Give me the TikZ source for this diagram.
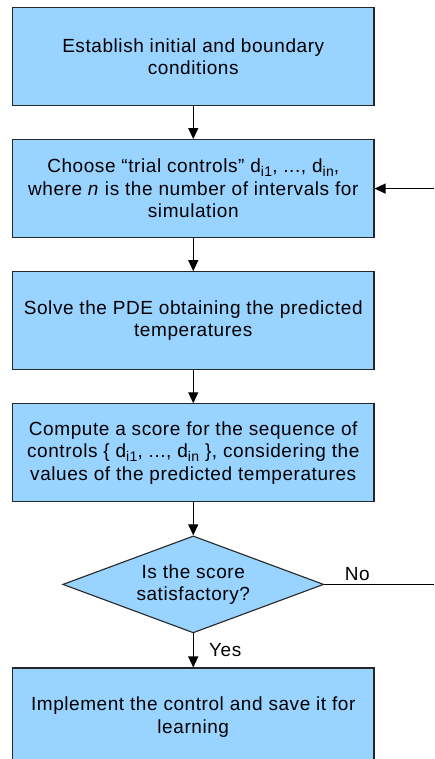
\documentclass[tikz,border=0pt]{standalone}
\usepackage{fontspec}
\setmainfont{Liberation Sans}[LetterSpace=3]
\usetikzlibrary{arrows.meta, positioning, shapes.geometric}
\definecolor{boxblue}{RGB}{153,211,255}
% index under a control symbol
\newcommand{\ctrlidx}[1]{\raisebox{-3.5pt}{\fontsize{14}{14}\selectfont #1}}

\begin{document}
\begin{tikzpicture}[
    x=1pt, y=1pt,
    font=\fontsize{19}{22.5}\selectfont,
    node distance=33pt,
    box/.style={rectangle, draw=black!85, line width=1.1pt, fill=boxblue, minimum width=361.5pt, minimum height=98pt, align=center},
    decision/.style={diamond, draw=black!85, line width=1.1pt, fill=boxblue, aspect=2.7, inner sep=0pt, minimum width=261pt, minimum height=97pt, align=center},
    arrow/.style={-{Triangle[length=11pt, width=10pt]}, line width=1.2pt}
  ]
    \useasboundingbox (0,0) rectangle (434,-759);

    \node[box] (init) at (193.25,-56.5) {Establish initial and boundary\\conditions};
    \node[box, below=of init] (choose) {Choose “trial controls” d\ctrlidx{i1}, ..., d\ctrlidx{in},\\where \textit{n} is the number of intervals for\\simulation};
    \node[box, below=of choose] (solve) {Solve the PDE obtaining the predicted\\temperatures};
    \node[box, below=of solve] (score) {Compute a score for the sequence of\\controls \{ d\ctrlidx{i1}, ..., d\ctrlidx{in} \}, considering the\\values of the predicted temperatures};
    \node[decision, below=of score] (check) {Is the score\\satisfactory?};
    \node[box, below=34pt of check] (impl) {Implement the control and save it for\\learning};

    % loop back runs past the right edge
    \coordinate (rim) at (434,0);
    \coordinate (noOut) at (check.east -| rim);
    \coordinate (loopIn) at (choose.east -| rim);

    \draw[arrow] (init) -- (choose);
    \draw[arrow] (choose) -- (solve);
    \draw[arrow] (solve) -- (score);
    \draw[arrow] (score) -- (check);
    \draw[arrow] (check) -- node[right, xshift=12pt]{Yes} (impl);
    \draw[line width=1.2pt] (check.east) -- node[above, pos=0.3]{No} (noOut);
    \draw[arrow] (loopIn) -- (choose.east);
  \end{tikzpicture}
\end{document}
